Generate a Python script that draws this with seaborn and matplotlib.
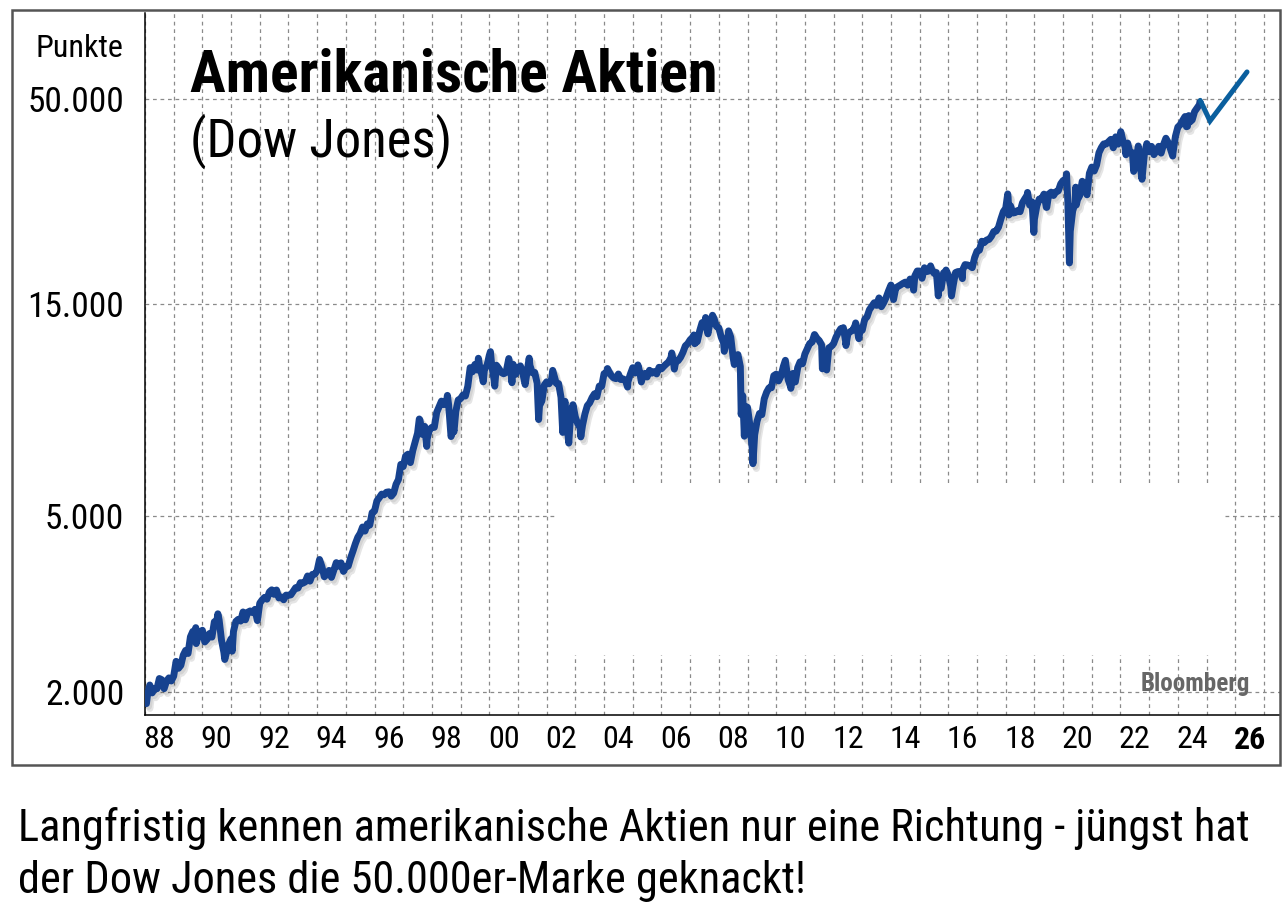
import matplotlib
matplotlib.use("Agg")
import numpy as np
import pandas as pd
import seaborn as sns
import matplotlib.pyplot as plt
from matplotlib import font_manager
from matplotlib import patheffects as pe
from matplotlib.patches import Rectangle
from matplotlib.ticker import FixedLocator, FixedFormatter, NullLocator, NullFormatter

# ---------------- data (Dow Jones, monthly closes) ----------------
dow_1988_1999 = [
    1958, 2071, 1988, 2032, 2031, 2142, 2129, 2032, 2113, 2149, 2115, 2169,
    2342, 2259, 2294, 2419, 2480, 2440, 2661, 2737, 2693, 2645, 2706, 2753,
    2591, 2627, 2707, 2657, 2877, 2881, 2905, 2614, 2453, 2442, 2560, 2634,
    2736, 2882, 2914, 2888, 3028, 2907, 3025, 3044, 3017, 3069, 2895, 3169,
    3224, 3267, 3236, 3359, 3397, 3319, 3394, 3257, 3272, 3226, 3305, 3301,
    3310, 3371, 3435, 3428, 3527, 3516, 3540, 3651, 3555, 3681, 3684, 3754,
    3978, 3832, 3636, 3682, 3758, 3625, 3765, 3913, 3843, 3908, 3739, 3834,
    3844, 4011, 4158, 4321, 4465, 4556, 4709, 4611, 4789, 4756, 5075, 5117,
    5395, 5486, 5588, 5569, 5643, 5655, 5529, 5616, 5882, 6029, 6522, 6448,
    6813, 6878, 6584, 7009, 7331, 7673, 8223, 7622, 7945, 7442, 7823, 7908,
    7907, 8546, 8800, 9063, 8900, 8952, 8883, 7539, 7843, 8592, 9117, 9181,
    9359, 9307, 9786, 10789, 10560, 10971, 10655, 10829, 10337, 10730, 10878, 11497,
]
dow_2000_2011 = [
    10941, 10128, 10922, 10734, 10522, 10448, 10522, 11215, 10651, 10971, 10415, 10787,
    10887, 10495, 9879, 10735, 10912, 10502, 10523, 9950, 8848, 9075, 9852, 10022,
    9920, 10106, 10404, 9946, 9925, 9243, 8737, 8664, 7592, 8397, 8896, 8342,
    8054, 7891, 7992, 8480, 8850, 8985, 9234, 9416, 9275, 9801, 9782, 10454,
    10488, 10584, 10358, 10226, 10188, 10435, 10140, 10174, 10080, 10027, 10428, 10783,
    10490, 10766, 10504, 10193, 10467, 10275, 10641, 10482, 10569, 10440, 10806, 10718,
    10865, 10993, 11109, 11367, 11168, 11150, 11186, 11381, 11679, 12081, 12222, 12463,
    12622, 12269, 12354, 13063, 13628, 13409, 13212, 13358, 13896, 13930, 13372, 13265,
    12650, 12266, 12263, 12820, 12638, 11350, 11378, 11544, 10851, 9325, 8829, 8776,
    8001, 7063, 7609, 8168, 8500, 8447, 9172, 9496, 9712, 9713, 10345, 10428,
    10067, 10325, 10857, 11009, 10137, 9774, 10466, 10015, 10788, 11118, 11006, 11578,
    11892, 12226, 12320, 12811, 12570, 12414, 12143, 11614, 10913, 11955, 12046, 12218,
]
dow_2012_2024 = [
    12633, 12952, 13212, 13214, 12393, 12880, 13009, 13091, 13437, 13096, 13026, 13104,
    13861, 14054, 14579, 14840, 15116, 14910, 15500, 14810, 15130, 15546, 16086, 16577,
    15699, 16322, 16458, 16581, 16717, 16827, 16563, 17098, 17043, 17391, 17828, 17823,
    17165, 18133, 17776, 17841, 18011, 17620, 17690, 16528, 16285, 17664, 17720, 17425,
    16466, 16517, 17685, 17774, 17787, 17930, 18432, 18401, 18308, 18142, 19124, 19763,
    19864, 20812, 20663, 20941, 21009, 21350, 21891, 21948, 22405, 23377, 24272, 24719,
    26149, 25029, 24103, 24163, 24416, 24271, 25415, 25965, 26458, 25116, 25538, 23327,
    24999, 25916, 25929, 26593, 24815, 26600, 26864, 26403, 26917, 27046, 28051, 28538,
    28256, 25409, 21917, 24346, 25383, 25813, 26428, 28430, 27782, 26502, 29639, 30606,
    29983, 30932, 32982, 33875, 34529, 34503, 34935, 35361, 33844, 35820, 34484, 36338,
    35132, 33893, 34678, 32977, 32990, 30775, 32845, 31510, 28726, 32733, 34590, 33147,
    34086, 32657, 33274, 34098, 32908, 34408, 35560, 34722, 33508, 33053, 35951, 37690,
    38150, 38996, 39807, 37816, 38686, 39119, 40843, 41563, 42330,
]
start_date, start_value = 1988.0, 1939
end_date, end_value = 2024.78, 43300

# intramonth highs / lows visible as spikes (decimal year, points)
extreme_dates = [
    1988.05, 1989.77, 1989.785, 1990.54, 1990.78, 1991.04, 1997.56, 1997.82,
    1998.54, 1998.77, 1999.62, 1999.79, 2000.04, 2000.19, 2000.68, 2000.79,
    2001.39, 2001.72, 2002.21, 2002.56, 2002.64, 2002.77, 2003.19, 2004.12,
    2004.82, 2005.18, 2005.30, 2006.36, 2006.45, 2007.13, 2007.16, 2007.54,
    2007.62, 2007.78, 2008.19, 2008.34, 2008.54, 2008.78, 2008.89, 2009.19,
    2010.32, 2010.51, 2011.34, 2011.61, 2011.76, 2012.34, 2012.43, 2012.77,
    2012.88, 2014.09, 2014.79, 2015.38, 2015.65, 2015.92, 2016.11, 2016.49,
    2018.07, 2018.11, 2018.76, 2018.98, 2019.43, 2020.12, 2020.22, 2020.44,
    2020.46, 2022.01, 2022.19, 2022.46, 2022.62, 2023.82, 2024.30, 2024.38,
]
extreme_values = [
    1880, 2791, 2569, 2999, 2365, 2470, 8259, 7161,
    9338, 7731, 11326, 10019, 11723, 9796, 11310, 9975,
    11337, 8236, 10635, 7702, 9053, 7286, 7524, 10737,
    9750, 10940, 10012, 11642, 10706, 12786, 12216, 14000,
    12861, 14165, 11740, 13058, 10963, 8451, 7552, 6547,
    11205, 9686, 12810, 10720, 10655, 13279, 12101, 13610,
    12542, 15373, 16141, 18312, 15666, 17918, 15660, 17140,
    26617, 23860, 26828, 21792, 24815, 29551, 18592, 27572,
    25128, 36799, 32632, 29927, 34152, 32418, 37753, 40003,
]

# recent extension (lighter blue)
recent_dates = [2024.78, 2025.12, 2026.41]
recent_values = [43300, 38900, 50200]

# axis labels
ytick_values = [2000, 5000, 15000, 43600]
ytick_labels = ["2.000", "5.000", "15.000", "50.000"]
year_labels = ["88", "90", "92", "94", "96", "98", "00", "02", "04", "06",
               "08", "10", "12", "14", "16", "18", "20", "22", "24", "26"]

title_1 = "Amerikanische Aktien"
title_2 = "(Dow Jones)"
unit_label = "Punkte"
source_label = "Bloomberg"
caption_1 = "Langfristig kennen amerikanische Aktien nur eine Richtung - jüngst hat"
caption_2 = "der Dow Jones die 50.000er-Marke geknackt!"

# ---------------- build table ----------------
monthly = dow_1988_1999 + dow_2000_2011 + dow_2012_2024
monthly_dates = [1988 + (i + 1) / 12 for i in range(len(monthly))]
df = pd.DataFrame({
    "date": [start_date] + monthly_dates + extreme_dates + [end_date],
    "value": [start_value] + monthly + extreme_values + [end_value],
}).sort_values("date").reset_index(drop=True)
df_recent = pd.DataFrame({"date": recent_dates, "value": recent_values})

# ---------------- fonts: prefer a condensed sans ----------------
sns.set_theme(style="white")
entries = font_manager.fontManager.ttflist
names = {f.name for f in entries}


def is_condensed(f):
    st = f.stretch
    if isinstance(st, str):
        return "condensed" in st
    try:
        return float(st) < 500
    except Exception:
        return False


FAM, STRETCH = "Liberation Sans", "normal"
for cand in ["Liberation Sans Narrow", "Roboto Condensed", "Open Sans Condensed",
             "Noto Sans Condensed", "DejaVu Sans Condensed"]:
    if cand in names:
        FAM, STRETCH = cand, "normal"
        break
else:
    for cand in ["Noto Sans", "Open Sans", "DejaVu Sans", "Roboto"]:
        if any(f.name == cand and is_condensed(f) for f in entries):
            FAM, STRETCH = cand, "condensed"
            break
    else:
        for f in entries:
            if "Narrow" in f.name or "Condensed" in f.name or is_condensed(f):
                FAM, STRETCH = f.name, ("condensed" if is_condensed(f) else "normal")
                break

plt.rcParams["font.family"] = [FAM, "DejaVu Sans"]
plt.rcParams["font.stretch"] = STRETCH

DARK = "#16428f"
LIGHT = "#0a5f9e"
GRID = "#8a8a8a"

W, H = 1287, 922
fig = plt.figure(figsize=(W / 100, H / 100), dpi=100, facecolor="white")
renderer = fig.canvas.get_renderer()


def fx(px):
    return px / W


def fy(py):
    return 1 - py / H


ysize = 25.5
xsize = 23.0

ax_l, ax_r, ax_t, ax_b = 145, 1280, 13, 715
ax = fig.add_axes([fx(ax_l), fy(ax_b), (ax_r - ax_l) / W, (ax_b - ax_t) / H])
ax.set_facecolor("white")

sns.lineplot(data=df, x="date", y="value", ax=ax, color=DARK, linewidth=5.0,
             estimator=None, sort=False, zorder=3)
main_line = ax.lines[-1]
main_line.set_solid_joinstyle("round")
main_line.set_solid_capstyle("butt")
main_line.set_path_effects([
    pe.SimpleLineShadow(offset=(2.5, -3.5), shadow_color="black", alpha=0.10),
    pe.SimpleLineShadow(offset=(1.5, -2.0), shadow_color="black", alpha=0.08),
    pe.Normal(),
])

sns.lineplot(data=df_recent, x="date", y="value", ax=ax, color=LIGHT, linewidth=3.6,
             estimator=None, sort=False, zorder=3)
ax.lines[-1].set_solid_joinstyle("miter")

ax.set_yscale("log")
ax.set_ylim(1772, 68200)
ax.set_xlim(1988.0, 2027.56)

ax.yaxis.set_major_locator(FixedLocator(ytick_values))
ax.yaxis.set_major_formatter(FixedFormatter(ytick_labels))
ax.yaxis.set_minor_locator(NullLocator())
ax.yaxis.set_minor_formatter(NullFormatter())

ax.xaxis.set_major_locator(FixedLocator(list(range(1988, 2028))))
ax.xaxis.set_major_formatter(NullFormatter())
label_pos = [1988 + 2 * i + 0.5 for i in range(len(year_labels))]
ax.xaxis.set_minor_locator(FixedLocator(label_pos))
ax.xaxis.set_minor_formatter(FixedFormatter(year_labels))

ax.set_xlabel("")
ax.set_ylabel("")

ax.tick_params(axis="y", which="major", direction="out", length=6, width=1.1,
               color="black", pad=9, labelsize=ysize, labelcolor="black")
ax.tick_params(axis="x", which="major", direction="out", length=5, width=1.1,
               color="black")
ax.tick_params(axis="x", which="minor", length=0, pad=7, labelsize=xsize,
               labelcolor="black")
for lab in ax.xaxis.get_minorticklabels():
    if lab.get_text() == "26":
        lab.set_fontweight("bold")

ax.set_axisbelow(True)
ax.grid(True, axis="both", which="major", color=GRID, linestyle=(0, (3, 3)),
        linewidth=0.9)

for s in ["top", "right"]:
    ax.spines[s].set_visible(False)
for s in ["left", "bottom"]:
    ax.spines[s].set_color("black")
    ax.spines[s].set_linewidth(1.1)

# white blank patch in the lower middle of the plot area (as in the reference)
ax.add_patch(Rectangle((2002.29, 2421), 2025.64 - 2002.29, 5892 - 2421,
                       facecolor="white", edgecolor="none", zorder=1))

# ---------------- texts ----------------


def fit(t, target_px):
    w = t.get_window_extent(renderer=renderer).width
    t.set_fontsize(t.get_fontsize() * target_px / w)
    return t


t1 = fig.text(fx(190), fy(92), title_1, fontsize=38, fontweight="bold",
              color="black", ha="left", va="baseline")
fit(t1, 527)
t2 = fig.text(fx(190), fy(157), title_2, fontsize=38, color="black",
              ha="left", va="baseline")
fit(t2, 262)

tp = fig.text(fx(35), fy(57), unit_label, fontsize=24, color="black",
              ha="left", va="baseline")
fit(tp, 88)

tb = fig.text(fx(1250), fy(691), source_label, fontsize=17, fontweight="bold",
              color="#666666", ha="right", va="baseline")
fit(tb, 110)

c1 = fig.text(fx(18), fy(841), caption_1, fontsize=32, color="black",
              ha="left", va="baseline")
fit(c1, 1232)
c2 = fig.text(fx(18), fy(893), caption_2, fontsize=c1.get_fontsize(),
              color="black", ha="left", va="baseline")

# outer frame around the chart area
fig.patches.append(Rectangle((fx(12), fy(765)), (1280 - 12) / W, (765 - 10) / H,
                             transform=fig.transFigure, fill=False,
                             edgecolor="#555555", linewidth=1.8, zorder=5))

fig.savefig("out.png", dpi=100, facecolor="white")
